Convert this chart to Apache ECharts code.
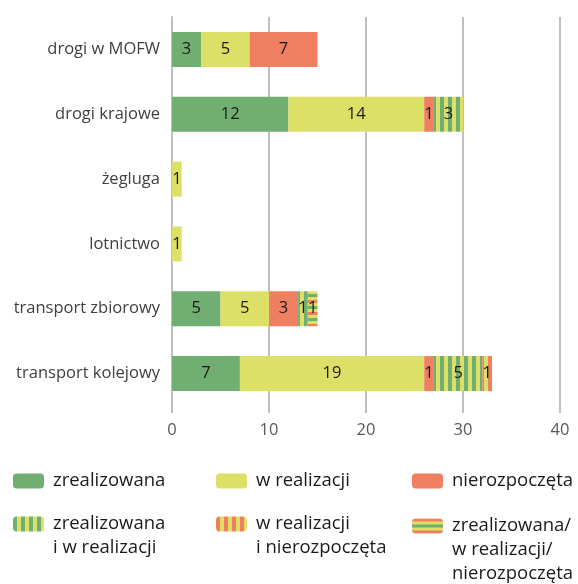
<!DOCTYPE html>
<html>
<head>
<meta charset="utf-8">
<script src="https://cdn.jsdelivr.net/npm/echarts@6/dist/echarts.min.js"></script>
<style>
  html, body { margin: 0; padding: 0; background: #fff; }
  #chart { width: 578px; height: 584px; }
</style>
</head>
<body>
<div id="chart"></div>
<script>
// kategorie od gory do dolu
const categories = ['drogi w MOFW', 'drogi krajowe', 'żegluga', 'lotnictwo', 'transport zbiorowy', 'transport kolejowy'];
const zrealizowana = [3, 12, null, null, 5, 7];
const wRealizacji = [5, 14, 1, 1, 5, 19];
const nierozpoczeta = [7, 1, null, null, 3, 1];
const zrealIwReal = [null, 3, null, null, 1, 5];
const wRealINierozp = [null, null, null, null, null, 1];
const wszystkieTrzy = [null, null, null, null, 1, null];
const xTicks = [0, 10, 20, 30, 40];

const GREEN = '#71ae71';
const YELLOW = '#dde066';
const ORANGE = '#f07e60';

// wzory paskowe
function stripes(cols, size, vertical) {
  const c = document.createElement('canvas');
  const n = cols.length;
  c.width = vertical ? size * n : 4;
  c.height = vertical ? 4 : size * n;
  const ctx = c.getContext('2d');
  cols.forEach((col, i) => {
    ctx.fillStyle = col;
    if (vertical) ctx.fillRect(i * size, 0, size, 4);
    else ctx.fillRect(0, i * size, 4, size);
  });
  return { image: c, repeat: 'repeat' };
}

const patGY = stripes([GREEN, YELLOW], 4, true);
const patOY = stripes([ORANGE, YELLOW], 4, true);
const patAll = stripes([ORANGE, YELLOW, GREEN, YELLOW], 3, false);

const FONT = 'Open Sans';

function bar(name, data, color) {
  return {
    name: name,
    type: 'bar',
    stack: 'all',
    data: data,
    barWidth: 35,
    itemStyle: { color: color },
    label: {
      show: true,
      position: 'inside',
      color: '#1a1a1a',
      fontFamily: FONT,
      fontSize: 16.5
    }
  };
}

// puste linie przed nazwa, zeby ikona stala przy pierwszej linii
function leg(name, left, top, lines) {
  return {
    data: [name],
    left: left,
    top: top,
    padding: 0,
    itemWidth: 31,
    itemHeight: 15,
    selectedMode: false,
    formatter: n => '\n'.repeat(lines - 1) + n,
    textStyle: {
      fontFamily: FONT,
      fontSize: 18.5,
      lineHeight: 24,
      color: '#1a1a1a',
      padding: [0, 0, 0, 4]
    }
  };
}

const chart = echarts.init(document.getElementById('chart'));
chart.setOption({
  animation: false,
  grid: { left: 172, right: 18, top: 17, bottom: 178, outerBoundsMode: 'none' },
  xAxis: {
    type: 'value',
    min: 0,
    max: 40,
    interval: 10,
    axisLine: { show: false },
    axisTick: { show: true, length: 7, lineStyle: { color: '#bfbfbf', width: 2 } },
    splitLine: { show: true, lineStyle: { color: '#bfbfbf', width: 2 } },
    axisLabel: {
      margin: 16,
      fontFamily: FONT,
      fontSize: 16.5,
      color: '#595959',
      formatter: v => xTicks.includes(v) ? String(v) : ''
    }
  },
  yAxis: {
    type: 'category',
    inverse: true,
    data: categories,
    axisLine: { show: true, lineStyle: { color: '#bfbfbf', width: 2 } },
    axisTick: { show: false },
    axisLabel: {
      margin: 12,
      fontFamily: FONT,
      fontSize: 16.5,
      color: '#404040'
    }
  },
  legend: [
    leg('zrealizowana', 13, 469, 1),
    leg('w realizacji', 216, 469, 1),
    leg('nierozpoczęta', 412, 469, 1),
    leg('zrealizowana\ni w realizacji', 13, 488, 2),
    leg('w realizacji\ni nierozpoczęta', 216, 488, 2),
    leg('zrealizowana/\nw realizacji/\nnierozpoczęta', 412, 466, 3)
  ],
  series: [
    bar('zrealizowana', zrealizowana, GREEN),
    bar('w realizacji', wRealizacji, YELLOW),
    bar('nierozpoczęta', nierozpoczeta, ORANGE),
    bar('zrealizowana\ni w realizacji', zrealIwReal, patGY),
    bar('w realizacji\ni nierozpoczęta', wRealINierozp, patOY),
    bar('zrealizowana/\nw realizacji/\nnierozpoczęta', wszystkieTrzy, patAll)
  ]
});
</script>
</body>
</html>
